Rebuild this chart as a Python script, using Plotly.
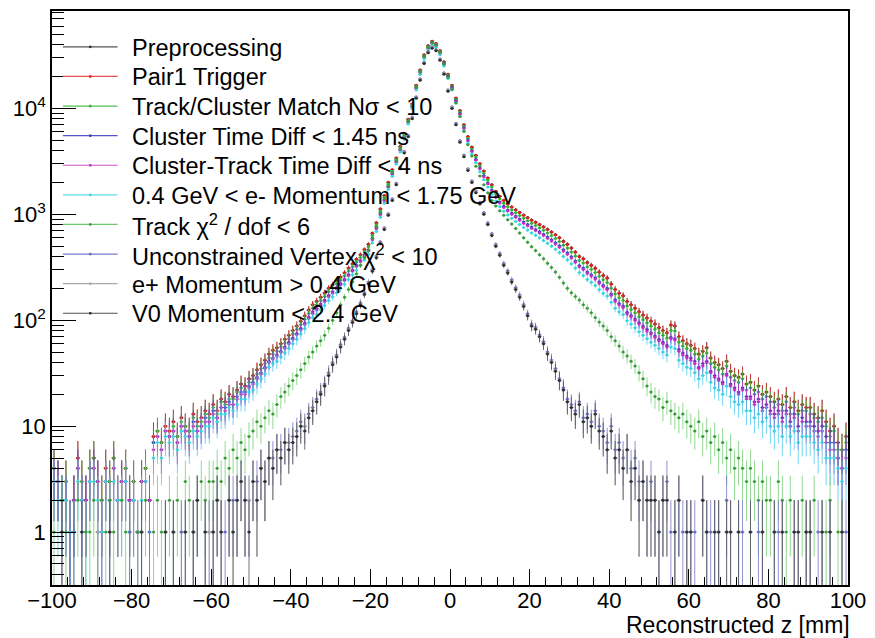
import numpy as np
import plotly.graph_objects as go

# ---------------- binning (1 mm bins from -100 to 100 mm) ----------------
z_min, z_max, n_bins = -100.0, 100.0, 200
edges = np.linspace(z_min, z_max, n_bins + 1)
centers = 0.5 * (edges[:-1] + edges[1:])

# ---------------- counts per bin ----------------
preprocessing = [
    4, 3, 2, 3, 1, 2, 5, 3, 2, 4,
    5, 3, 2, 4, 3, 5, 2, 3, 4, 2,
    3, 1, 3, 4, 2, 8, 9, 7, 10, 9,
    11, 8, 12, 10, 9, 13, 11, 12, 14, 13,
    16, 14, 18, 17, 20, 19, 22, 25, 24, 28,
    30, 34, 38, 42, 48, 52, 55, 60, 66, 72,
    80, 88, 98, 110, 125, 140, 151, 165, 181, 200,
    216, 236, 256, 281, 311, 341, 376, 416, 466, 522,
    662, 833, 1124, 1505, 2007, 2640, 3412, 4385, 5770, 7925,
    11040, 16560, 23080, 32110, 39140, 43150, 41140, 35120, 27600, 21080,
    16560, 12545, 9535, 7025, 5420, 4315, 3612, 3010, 2560, 2208,
    1907, 1656, 1485, 1355, 1254, 1174, 1104, 1044, 983, 933,
    883, 843, 803, 762, 722, 682, 642, 602, 557, 522,
    480, 440, 400, 380, 350, 330, 310, 285, 265, 250,
    220, 195, 180, 170, 150, 140, 130, 120, 112, 105,
    98, 92, 85, 80, 76, 90, 88, 70, 64, 60,
    58, 54, 48, 51, 55, 44, 40, 38, 35, 41,
    33, 30, 29, 31, 25, 26, 22, 24, 20, 21,
    19, 17, 18, 16, 19, 15, 17, 14, 16, 15,
    15, 13, 12, 14, 11, 9, 10, 7, 6, 8,
]
pair1_trigger = [
    4, 3, 2, 3, 1, 2, 5, 3, 2, 4,
    5, 3, 2, 4, 3, 5, 2, 3, 4, 2,
    3, 1, 3, 4, 2, 8, 9, 7, 10, 9,
    11, 8, 12, 10, 9, 13, 11, 12, 14, 13,
    16, 14, 18, 17, 20, 19, 22, 25, 24, 28,
    30, 34, 38, 42, 48, 52, 55, 60, 66, 72,
    80, 88, 98, 110, 125, 140, 150, 165, 180, 200,
    215, 235, 255, 280, 310, 340, 375, 415, 465, 520,
    660, 830, 1120, 1500, 2000, 2630, 3400, 4370, 5750, 7900,
    11000, 16500, 23000, 32000, 39000, 43000, 41000, 35000, 27500, 21000,
    16500, 12500, 9500, 7000, 5400, 4300, 3600, 3000, 2550, 2200,
    1900, 1650, 1480, 1350, 1250, 1170, 1100, 1040, 980, 930,
    880, 840, 800, 760, 720, 680, 640, 600, 555, 520,
    480, 440, 400, 380, 350, 330, 310, 285, 265, 250,
    220, 195, 180, 170, 150, 140, 130, 120, 112, 105,
    98, 92, 85, 80, 76, 90, 88, 70, 64, 60,
    58, 54, 48, 51, 55, 44, 40, 38, 35, 41,
    33, 30, 29, 31, 25, 26, 22, 24, 20, 21,
    19, 17, 18, 16, 19, 15, 17, 14, 16, 15,
    15, 13, 12, 14, 11, 9, 10, 7, 6, 8,
]
track_cluster_match = [
    4, 3, 2, 3, 1, 2, 4, 3, 2, 4,
    5, 3, 2, 3, 3, 5, 2, 3, 4, 2,
    3, 1, 3, 4, 2, 7, 9, 7, 9, 8,
    10, 8, 11, 10, 9, 12, 10, 11, 13, 12,
    15, 13, 17, 16, 18, 18, 21, 23, 22, 26,
    28, 31, 35, 39, 44, 48, 51, 56, 61, 67,
    74, 82, 91, 102, 116, 130, 140, 154, 168, 187,
    201, 220, 239, 262, 291, 320, 353, 392, 440, 494,
    630, 795, 1075, 1445, 1930, 2550, 3300, 4250, 5600, 7720,
    10750, 16150, 22550, 31400, 38300, 42300, 40300, 34400, 27000, 20600,
    16150, 12200, 9250, 6800, 5230, 4150, 3470, 2880, 2440, 2100,
    1810, 1570, 1400, 1275, 1180, 1100, 1035, 975, 918, 870,
    822, 784, 745, 707, 668, 630, 592, 554, 512, 480,
    442, 404, 367, 348, 320, 302, 283, 260, 241, 227,
    200, 177, 163, 154, 136, 126, 117, 108, 101, 94,
    88, 82, 76, 72, 68, 80, 79, 62, 57, 54,
    52, 48, 43, 46, 49, 39, 36, 34, 31, 37,
    29, 27, 26, 28, 22, 23, 20, 21, 18, 19,
    17, 15, 16, 14, 17, 13, 15, 13, 14, 14,
    13, 12, 11, 12, 10, 8, 9, 6, 6, 7,
]
cluster_time_diff = [
    3, 3, 2, 2, 1, 2, 4, 2, 2, 3,
    4, 3, 1, 3, 2, 4, 2, 3, 3, 2,
    2, 1, 3, 3, 2, 7, 8, 6, 9, 8,
    9, 7, 10, 9, 8, 11, 9, 10, 12, 11,
    14, 12, 15, 15, 17, 16, 19, 21, 21, 24,
    26, 29, 32, 36, 41, 44, 47, 51, 56, 62,
    68, 75, 84, 94, 107, 120, 129, 142, 155, 172,
    186, 204, 222, 244, 271, 298, 330, 367, 412, 463,
    590, 748, 1015, 1370, 1840, 2440, 3170, 4100, 5420, 7500,
    10450, 15750, 22050, 30800, 37600, 41600, 39600, 33800, 26500, 20150,
    15750, 11850, 8950, 6560, 5030, 3980, 3310, 2740, 2310, 1980,
    1700, 1470, 1310, 1190, 1100, 1025, 960, 903, 848, 803,
    758, 721, 684, 648, 612, 576, 540, 504, 464, 433,
    398, 363, 329, 311, 286, 269, 252, 231, 214, 201,
    177, 156, 144, 136, 119, 111, 103, 95, 88, 82,
    76, 71, 66, 62, 58, 69, 67, 53, 49, 46,
    44, 41, 36, 39, 41, 33, 30, 28, 26, 31,
    25, 23, 21, 23, 19, 19, 17, 18, 15, 16,
    14, 13, 14, 12, 14, 11, 13, 10, 12, 11,
    11, 10, 9, 10, 8, 7, 7, 5, 4, 6,
]
cluster_track_time_diff = [
    3, 3, 2, 2, 1, 2, 4, 2, 2, 3,
    4, 3, 1, 3, 2, 4, 2, 3, 3, 2,
    2, 1, 3, 3, 2, 6, 8, 6, 9, 8,
    9, 7, 10, 9, 8, 10, 9, 10, 11, 11,
    13, 12, 15, 14, 16, 16, 18, 20, 20, 23,
    25, 28, 31, 35, 40, 43, 46, 50, 54, 60,
    66, 73, 81, 91, 104, 116, 125, 138, 150, 167,
    180, 198, 216, 237, 263, 290, 321, 357, 401, 451,
    575, 730, 992, 1340, 1800, 2390, 3100, 4020, 5320, 7370,
    10280, 15500, 21700, 30350, 37050, 41000, 39050, 33300, 26100, 19850,
    15500, 11650, 8800, 6450, 4940, 3910, 3250, 2690, 2260, 1940,
    1665, 1440, 1280, 1160, 1075, 1000, 937, 880, 826, 782,
    738, 702, 666, 630, 595, 560, 525, 490, 451, 421,
    387, 353, 320, 302, 278, 261, 245, 224, 208, 195,
    172, 151, 140, 132, 115, 108, 100, 92, 85, 79,
    74, 69, 64, 60, 56, 67, 65, 51, 47, 44,
    42, 39, 35, 37, 40, 32, 29, 27, 25, 30,
    24, 22, 20, 22, 18, 18, 16, 17, 14, 15,
    13, 12, 13, 11, 13, 10, 12, 9, 11, 10,
    10, 9, 8, 9, 7, 6, 6, 5, 4, 5,
]
electron_momentum = [
    3, 2, 2, 2, 1, 1, 3, 2, 1, 3,
    3, 2, 1, 3, 2, 3, 2, 2, 3, 1,
    2, 1, 2, 3, 1, 5, 7, 5, 8, 7,
    8, 6, 9, 8, 7, 9, 8, 9, 10, 10,
    12, 11, 13, 13, 15, 14, 16, 18, 18, 21,
    22, 25, 28, 31, 36, 39, 41, 45, 49, 54,
    60, 66, 74, 83, 95, 106, 114, 126, 138, 154,
    166, 182, 199, 219, 243, 268, 297, 331, 372, 419,
    540, 690, 940, 1275, 1720, 2290, 2980, 3870, 5130, 7110,
    9920, 14950, 20950, 29300, 35800, 39600, 37700, 32150, 25200, 19150,
    14900, 11200, 8430, 6150, 4700, 3710, 3070, 2530, 2120, 1810,
    1550, 1335, 1185, 1070, 988, 917, 857, 803, 752, 710,
    668, 634, 600, 566, 533, 500, 468, 436, 400, 373,
    342, 311, 282, 265, 243, 228, 213, 195, 180, 169,
    148, 130, 120, 113, 99, 92, 85, 78, 72, 67,
    62, 58, 54, 50, 47, 56, 54, 42, 39, 36,
    35, 32, 28, 30, 32, 26, 23, 22, 20, 24,
    19, 17, 16, 17, 14, 14, 12, 13, 11, 12,
    10, 9, 10, 8, 10, 8, 9, 7, 8, 8,
    8, 7, 6, 7, 5, 5, 5, 4, 3, 4,
]
track_chi2 = [
    1, 0, 2, 1, 0, 1, 2, 0, 1, 1,
    2, 1, 0, 1, 2, 1, 0, 2, 1, 1,
    0, 1, 1, 2, 0, 1, 2, 1, 1, 2,
    1, 2, 1, 3, 2, 1, 2, 3, 2, 3,
    3, 4, 3, 5, 4, 6, 5, 7, 6, 8,
    9, 11, 10, 12, 14, 13, 16, 19, 21, 24,
    27, 30, 34, 39, 45, 50, 57, 64, 72, 84,
    100, 118, 140, 165, 195, 230, 275, 330, 390, 460,
    600, 770, 1040, 1400, 1870, 2480, 3220, 4160, 5480, 7560,
    10500, 15800, 22100, 30900, 37700, 41700, 39600, 33700, 26200, 19700,
    15200, 11300, 8400, 6050, 4550, 3550, 2850, 2300, 1900, 1600,
    1350, 1200, 1080, 980, 890, 810, 735, 665, 600, 545,
    495, 455, 415, 380, 345, 315, 285, 255, 225, 200,
    182, 168, 155, 140, 130, 118, 106, 96, 88, 80,
    70, 64, 57, 50, 46, 41, 37, 32, 28, 24,
    21, 19, 18, 15, 17, 14, 13, 12, 13, 11,
    10, 9, 11, 8, 9, 7, 8, 6, 7, 5,
    6, 4, 5, 4, 3, 4, 3, 2, 3, 2,
    2, 1, 3, 2, 1, 2, 1, 0, 2, 1,
    1, 2, 0, 1, 1, 2, 0, 1, 1, 0,
]
unconstrained_vertex = [
    0, 0, 1, 0, 0, 1, 0, 1, 0, 0,
    0, 1, 0, 0, 1, 0, 0, 0, 0, 1,
    0, 0, 1, 0, 1, 0, 0, 0, 1, 0,
    1, 0, 1, 1, 0, 1, 2, 0, 1, 1,
    1, 2, 1, 1, 2, 2, 2, 3, 2, 2,
    3, 3, 4, 3, 5, 5, 6, 6, 7, 7,
    8, 9, 11, 10, 13, 15, 18, 21, 25, 32,
    40, 47, 59, 69, 84, 99, 120, 146, 182, 229,
    302, 405, 550, 748, 1015, 1400, 1970, 2800, 3940, 5590,
    8280, 12900, 19100, 27300, 34500, 38100, 36000, 29400, 21700, 15000,
    10350, 7250, 4980, 3630, 2700, 2080, 1665, 1300, 1040, 835,
    658, 522, 428, 345, 293, 241, 204, 173, 141, 115,
    92, 86, 73, 63, 50, 42, 35, 28, 23, 18,
    16, 14, 17, 12, 13, 11, 14, 10, 9, 7,
    10, 6, 7, 5, 6, 4, 5, 3, 3, 2,
    3, 2, 1, 2, 3, 1, 1, 2, 1, 1,
    1, 1, 0, 2, 1, 1, 1, 1, 0, 2,
    1, 0, 1, 1, 0, 1, 0, 1, 1, 0,
    0, 1, 1, 1, 0, 0, 1, 1, 0, 1,
    1, 0, 1, 1, 0, 1, 0, 0, 1, 1,
]
positron_momentum = [
    0, 0, 1, 0, 0, 0, 0, 1, 0, 0,
    0, 1, 0, 0, 1, 0, 0, 0, 0, 0,
    0, 0, 1, 0, 0, 0, 0, 0, 1, 0,
    1, 0, 0, 1, 0, 1, 2, 0, 1, 1,
    1, 2, 1, 0, 2, 1, 2, 3, 2, 2,
    3, 2, 4, 3, 5, 4, 6, 5, 7, 6,
    7, 8, 10, 10, 12, 14, 17, 20, 24, 31,
    39, 46, 57, 67, 82, 97, 117, 143, 178, 224,
    296, 397, 540, 734, 997, 1375, 1935, 2750, 3870, 5490,
    8140, 12700, 18800, 26900, 34000, 37550, 35500, 28950, 21350, 14750,
    10180, 7120, 4890, 3560, 2650, 2040, 1630, 1275, 1020, 815,
    644, 511, 419, 337, 286, 235, 199, 169, 138, 112,
    90, 84, 71, 61, 49, 41, 34, 27, 22, 17,
    15, 13, 16, 11, 12, 10, 13, 9, 8, 6,
    9, 5, 6, 4, 6, 3, 4, 2, 3, 2,
    2, 2, 1, 2, 2, 0, 1, 2, 0, 1,
    1, 0, 0, 2, 1, 0, 1, 1, 0, 1,
    1, 0, 1, 0, 0, 1, 0, 0, 1, 0,
    0, 1, 0, 1, 0, 0, 1, 1, 0, 1,
    1, 0, 0, 1, 0, 1, 0, 0, 1, 0,
]
v0_momentum = [
    0, 0, 1, 0, 0, 0, 0, 1, 0, 0,
    0, 0, 0, 0, 1, 0, 0, 0, 0, 0,
    0, 0, 1, 0, 0, 0, 0, 0, 1, 0,
    1, 0, 0, 1, 0, 1, 2, 0, 1, 0,
    1, 2, 1, 0, 2, 1, 2, 3, 2, 1,
    3, 2, 4, 3, 5, 4, 6, 5, 7, 6,
    7, 8, 10, 9, 12, 14, 17, 20, 24, 30,
    38, 45, 56, 66, 80, 95, 115, 140, 175, 220,
    290, 390, 530, 720, 980, 1350, 1900, 2700, 3800, 5400,
    8000, 12500, 18500, 26500, 33500, 37000, 35000, 28500, 21000, 14500,
    10000, 7000, 4800, 3500, 2600, 2000, 1600, 1250, 1000, 800,
    630, 500, 410, 330, 280, 230, 195, 165, 135, 110,
    88, 82, 70, 60, 48, 40, 33, 27, 22, 17,
    15, 13, 16, 11, 12, 10, 13, 9, 8, 6,
    9, 5, 6, 4, 6, 3, 4, 2, 3, 2,
    2, 2, 1, 2, 2, 0, 1, 2, 0, 1,
    1, 0, 0, 2, 1, 0, 1, 1, 0, 1,
    1, 0, 1, 0, 0, 1, 0, 0, 1, 0,
    0, 1, 0, 1, 0, 0, 1, 1, 0, 1,
    1, 0, 0, 1, 0, 1, 0, 0, 1, 0,
]

names = [
    "Preprocessing",
    "Pair1 Trigger",
    "Track/Cluster Match N\u03c3 &lt; 10",
    "Cluster Time Diff &lt; 1.45 ns",
    "Cluster-Track Time Diff &lt; 4 ns",
    "0.4 GeV &lt; e- Momentum &lt; 1.75 GeV",
    "Track \u03c7<sup>2</sup> / dof &lt; 6",
    "Unconstrained Vertex \u03c7<sup>2</sup> &lt; 10",
    "e+ Momentum &gt; 0.4 GeV",
    "V0 Momentum &lt; 2.4 GeV",
]
values = [preprocessing, pair1_trigger, track_cluster_match, cluster_time_diff,
          cluster_track_time_diff, electron_momentum, track_chi2,
          unconstrained_vertex, positron_momentum, v0_momentum]
marker_colors = ["#333333", "#e02020", "#30b030", "#2c3cc0", "#c030c0",
                 "#30d8e0", "#3a9a3a", "#6a6ac8", "#a8a8a8", "#303030"]
err_colors = ["rgba(60,60,60,0.75)", "rgba(230,40,40,0.75)", "rgba(60,190,60,0.75)",
              "rgba(60,80,210,0.75)", "rgba(200,60,200,0.75)", "rgba(70,200,235,0.75)",
              "rgba(100,200,100,0.7)", "rgba(110,110,200,0.75)", "rgba(170,170,170,0.75)",
              "rgba(80,80,90,0.8)"]
legend_line_colors = ["#555555", "#e85050", "#50c050", "#5058c8", "#c850c8",
                      "#60e0e8", "#70c870", "#7878cc", "#aaaaaa", "#505050"]

W, H = 875, 638
M_L, M_R, M_T, M_B = 52, 22, 9, 53
PW, PH = W - M_L - M_R, H - M_T - M_B

fig = go.Figure()
for name, vals, mc, ec in zip(names, values, marker_colors, err_colors):
    v = np.asarray(vals, dtype=float)
    y = [float(c) if c > 0 else None for c in v]
    err = [float(np.sqrt(c)) if c > 0 else 0.0 for c in v]
    fig.add_trace(go.Scatter(
        x=centers, y=y, mode="markers", name=name,
        marker=dict(size=3, color=mc),
        error_y=dict(type="data", array=err, symmetric=True, color=ec, thickness=1, width=0),
        error_x=dict(type="constant", value=0.5, color=ec, thickness=1, width=0),
        showlegend=False, hoverinfo="skip",
    ))

font_family = "Liberation Sans, Arial, Helvetica, sans-serif"

# ---------------- ROOT-style legend (line + marker + label) ----------------
def px_x(p):
    return (p - M_L) / PW

def px_y(p):
    return (H - M_B - p) / PH

leg_top, leg_step = 45.0, 29.7
line_x0, line_x1, text_x = 63, 118, 131
for i, (name, lc, mc) in enumerate(zip(names, legend_line_colors, marker_colors)):
    yc = leg_top + i * leg_step
    fig.add_shape(type="line", xref="paper", yref="paper",
                  x0=px_x(line_x0), x1=px_x(line_x1), y0=px_y(yc), y1=px_y(yc),
                  line=dict(color=lc, width=1.2))
    xm = 0.5 * (line_x0 + line_x1)
    fig.add_shape(type="rect", xref="paper", yref="paper",
                  x0=px_x(xm - 1.2), x1=px_x(xm + 1.2), y0=px_y(yc - 1.2), y1=px_y(yc + 1.2),
                  line=dict(width=0), fillcolor=mc)
    fig.add_annotation(text=name, xref="paper", yref="paper",
                       x=px_x(text_x), y=px_y(yc + 1), xanchor="left", yanchor="middle",
                       showarrow=False, borderpad=0,
                       font=dict(family=font_family, size=23.5, color="black"))

decades = [1, 10, 100, 1000, 10000]
minor_vals = [m * d for d in [0.1, 1, 10, 100, 1000, 10000] for m in range(2, 10)]

fig.update_layout(
    width=W, height=H,
    margin=dict(l=M_L, r=M_R, t=M_T, b=M_B),
    paper_bgcolor="white", plot_bgcolor="white",
    font=dict(family=font_family, size=22, color="black"),
    showlegend=False,
    xaxis=dict(range=[z_min, z_max], showgrid=False, zeroline=False,
               showline=True, linecolor="black", linewidth=1.5, mirror=True,
               ticks="inside", ticklen=16, tickwidth=1, tickcolor="black",
               tickmode="array", tickvals=list(range(-100, 101, 20)),
               tickfont=dict(size=22), ticklabelstandoff=-5,
               minor=dict(ticks="inside", ticklen=8, tickwidth=1, tickcolor="black",
                          tickmode="array", tickvals=list(range(-100, 101, 4)))),
    yaxis=dict(type="log", range=[-0.5, 4.92], showgrid=False, zeroline=False,
               showline=True, linecolor="black", linewidth=1.5, mirror=True,
               ticks="inside", ticklen=24, tickwidth=1, tickcolor="black",
               tickmode="array", tickvals=decades,
               ticktext=["1", "10", "10<sup>2</sup>", "10<sup>3</sup>", "10<sup>4</sup>"],
               tickfont=dict(size=22),
               minor=dict(ticks="inside", ticklen=12, tickwidth=1, tickcolor="black",
                          tickmode="array", tickvals=minor_vals)),
)
fig.add_annotation(text="Reconstructed z [mm]", xref="paper", yref="paper",
                   x=1.0, y=0, xanchor="right", yanchor="top", yshift=-26, xshift=3,
                   showarrow=False, borderpad=0,
                   font=dict(family=font_family, size=23, color="black"))

fig.write_html("out.html")
